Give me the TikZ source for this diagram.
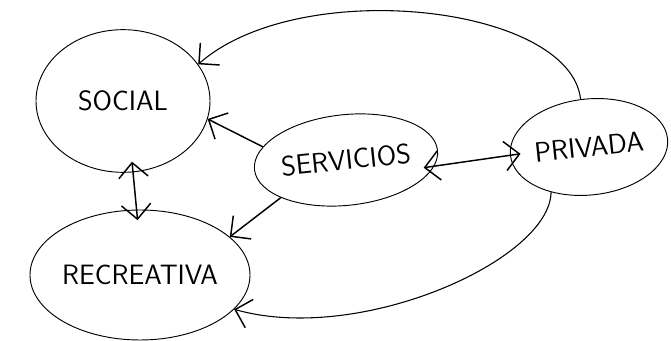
\documentclass[tikz,border=0pt]{standalone}
\usepackage{tikz}
\usetikzlibrary{arrows.meta,shapes.geometric}

\begin{document}
\begin{tikzpicture}[x=0.75pt,y=-0.75pt,
        blob/.style={draw,ellipse,line width=0.7pt,inner sep=0pt,font=\sffamily\fontsize{21}{21}\selectfont},
        barb/.tip={Straight Barb[length=11pt,width=22pt,line width=1.1pt]},
        link/.style={line width=1.1pt,-barb},
        both/.style={line width=1.1pt,barb-barb,shorten <=-8pt,shorten >=-8pt},
        arc/.style={line width=0.8pt,-barb}]
    \useasboundingbox (0,0) rectangle (671,341);

    \node[blob,minimum width=130.5pt,minimum height=107pt] (social) at (123,101) {SOCIAL};
    \node[blob,minimum width=165pt,minimum height=97.5pt] (recreativa) at (140,275) {RECREATIVA};
    \node[blob,rotate=6,minimum width=124pt,minimum height=68pt] (servicios) at (346,160) {SERVICIOS};
    \node[blob,rotate=6,minimum width=118.5pt,minimum height=72pt] (privada) at (589,147) {PRIVADA};

    \draw[link] (servicios.165) -- (social.-12);
    \draw[link] (servicios.204) -- (recreativa.23);
    \draw[both] (social.-82) -- (recreativa.93);
    \draw[both] (privada.180) -- (servicios.-10);

    \draw[arc] (privada.94) .. controls (570,5) and (300,-25) .. (social.26);
    \draw[arc] (privada.224) .. controls (550,260) and (360,345) .. (recreativa.-20);
\end{tikzpicture}
\end{document}
